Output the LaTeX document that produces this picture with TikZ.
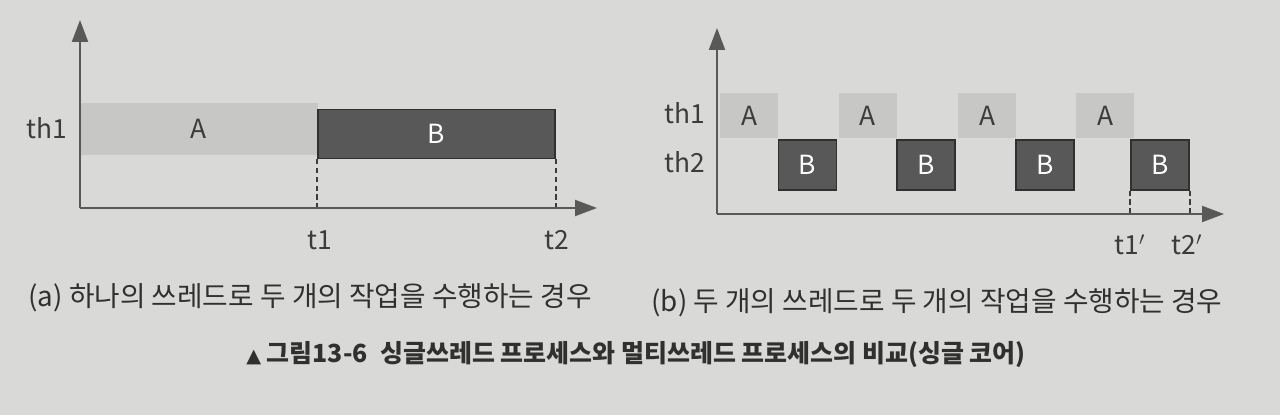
\documentclass[tikz,border=0pt]{standalone}
\usepackage{fontspec}
\setmainfont{Noto Sans CJK KR}
\newfontfamily\symfont{DejaVu Sans}
\usetikzlibrary{arrows.meta}
\definecolor{paper}{RGB}{217,217,215}
\definecolor{lightjob}{RGB}{199,199,197}
\definecolor{darkjob}{RGB}{88,88,88}
\definecolor{ink}{RGB}{60,60,60}

\begin{document}
\begin{tikzpicture}[x=0.02cm,y=-0.02cm,
  axis/.style={draw=ink!85,line width=1.2pt,-{Triangle[length=0.44cm,width=0.32cm]}},
  jobA/.style={fill=lightjob,text=ink,inner sep=0pt,font=\fontsize{15}{17}\selectfont},
  jobB/.style={fill=darkjob,draw=ink!80!black,line width=0.8pt,text=white,inner sep=0pt,font=\fontsize{15}{17}\selectfont},
  lbl/.style={text=ink,font=\fontsize{15}{17}\selectfont},
  guide/.style={draw=ink,dashed,line width=1pt,dash pattern=on 3pt off 2pt},
  captext/.style={text=ink!80!black,font=\fontsize{15.8}{18}\selectfont}]
\fill [paper] (0,0) rectangle (1280,415);
\useasboundingbox (0,0) rectangle (1280,415);

% (a) one thread
\coordinate (o1) at (80,208);
\coordinate (y1) at (80,20);
\coordinate (x1) at (597,208);
\node [jobA,minimum width=4.76cm,minimum height=1.04cm] (a1) at (199,129) {A};
\node [jobB,minimum width=4.74cm,minimum height=0.98cm] (b1) at (436.5,134) {B};
\coordinate (t1) at (b1.south west |- o1);
\coordinate (t2) at (b1.south east |- o1);
\draw [guide] (b1.south west) -- (t1);
\draw [guide] (b1.south east) -- (t2);
\draw [axis] (o1) -- (y1);
\draw [axis] (o1) -- (x1);
\node [lbl] (th1a) at (47,128) {th1};
\node [lbl] (t1l) at (320,240) {t1};
\node [lbl] (t2l) at (557,240) {t2};

% (b) two threads
\coordinate (o2) at (717,214);
\coordinate (y2) at (717,28);
\coordinate (x2) at (1224,214);
\foreach \i/\xa/\xb in {1/749/807.5,2/867.5/926,3/987/1045,4/1105/1160}{
  \node [jobA,minimum width=1.16cm,minimum height=0.9cm] (a2\i) at (\xa,115.5) {A};
  \node [jobB,minimum width=1.16cm,minimum height=1.0cm] (b2\i) at (\xb,165) {B};
}
\coordinate (t1p) at (b24.south west |- o2);
\coordinate (t2p) at (b24.south east |- o2);
\draw [guide] (b24.south west) -- (t1p);
\draw [guide] (b24.south east) -- (t2p);
\draw [axis] (o2) -- (y2);
\draw [axis] (o2) -- (x2);
\node [lbl] (th1b) at (685,113) {th1};
\node [lbl] (th2b) at (685,162) {th2};
\node [lbl] (t1pl) at (1130,245) {t1$'$};
\node [lbl] (t2pl) at (1187,245) {t2$'$};

% captions
\node [captext] (capa) at (310,298) {(a) 하나의 쓰레드로 두 개의 작업을 수행하는 경우};
\node [captext] (capb) at (937,303) {(b) 두 개의 쓰레드로 두 개의 작업을 수행하는 경우};
\node [captext,font=\fontsize{14.2}{16}\selectfont\bfseries] (title) at (636,355)
  {{\symfont\fontsize{11}{12}\selectfont ▲} 그림13-6\enspace 싱글쓰레드 프로세스와 멀티쓰레드 프로세스의 비교(싱글 코어)};
\end{tikzpicture}
\end{document}
